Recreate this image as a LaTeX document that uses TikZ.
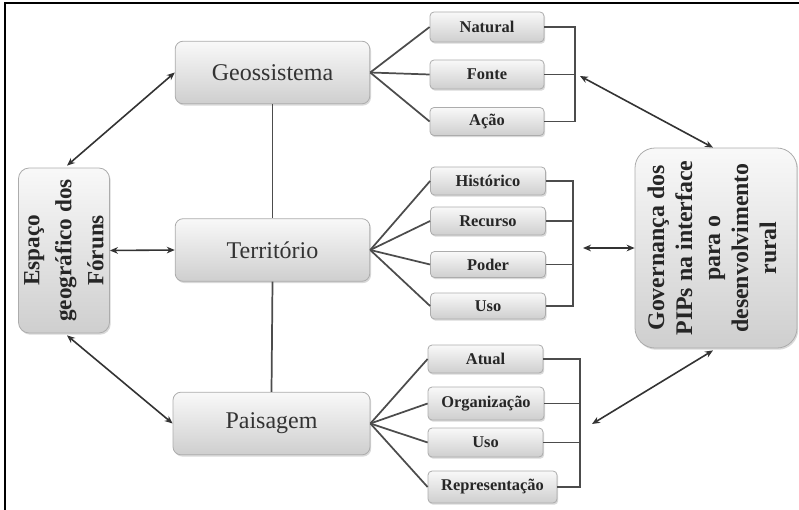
\documentclass[tikz,border=0pt]{standalone}
\usepackage{fontspec}
\setmainfont{Liberation Serif}
\usetikzlibrary{shadows,arrows.meta,calc}
\tikzset{
  boxbase/.style={draw=gray!65, line width=0.6pt, top color=gray!5, bottom color=gray!38,
    drop shadow={opacity=0.3, shadow xshift=0.9pt, shadow yshift=-1.3pt}},
  bigbox/.style={boxbase, rounded corners=6pt, minimum width=146pt, minimum height=47pt,
    inner sep=0pt, font=\fontsize{18}{20}\selectfont, text=black!80},
  smallbox/.style={boxbase, rounded corners=3pt, minimum width=85.5pt, minimum height=21pt,
    inner sep=0pt, font=\fontsize{12.3}{14}\selectfont\bfseries, text=black!85},
  sidebox/.style={boxbase, inner sep=0pt},
  rottext/.style={rotate=90, align=center, inner sep=0pt, text=black!85},
  link/.style={draw=black!70, line width=1.3pt},
  dbl/.style={draw=black!80, line width=1.2pt, {Stealth[length=6pt,width=5pt]}-{Stealth[length=6pt,width=5pt]}},
}
\begin{document}
\begin{tikzpicture}[x=0.75pt,y=-0.75pt]
\useasboundingbox (0,0) rectangle (799,510);
% frame
\draw[line width=1.5pt] (5,510) coordinate (fl) -- (5,3) coordinate (fc) -- (799,3) coordinate (fr);

% main boxes
\node[bigbox] (geo) at (272.5,72.5) {Geossistema};
\node[bigbox] (ter) at (272.5,250) {Território};
\node[bigbox, minimum width=147.75pt] (pai) at (271.5,423.5) {Paisagem};

% side boxes
\node[sidebox, rounded corners=8pt, minimum width=68.25pt, minimum height=123.75pt] (esp) at (64,250.5) {};
\node[rottext, font=\fontsize{17.4}{24}\selectfont\bfseries] (espt) at (esp.center) {Espaço\\geográfico dos\\Fóruns};
\node[sidebox, rounded corners=15pt, minimum width=121.5pt, minimum height=150pt] (gov) at (716,248) {};
\node[rottext, font=\fontsize{17.9}{21}\selectfont\bfseries] (govt) at ($(gov.center)+(-4,0)$) {Governança dos\\PIPs na interface\\para o\\desenvolvimento\\rural};

% small boxes - Geossistema
\node[smallbox, minimum height=22.5pt] (nat) at (487,27) {Natural};
\node[smallbox, minimum height=21.75pt] (fon) at (487,74.5) {Fonte};
\node[smallbox, minimum height=21pt] (aca) at (487,121.5) {Ação};
% Territorio
\node[smallbox, minimum width=86.25pt, minimum height=21pt] (his) at (488,181) {Histórico};
\node[smallbox, minimum width=86.25pt, minimum height=21pt] (rec) at (488,221) {Recurso};
\node[smallbox, minimum width=86.25pt, minimum height=19.5pt] (pod) at (488,264.5) {Poder};
\node[smallbox, minimum width=86.25pt, minimum height=19.5pt] (usoa) at (488,306) {Uso};
% Paisagem
\node[smallbox, minimum width=86.25pt, minimum height=21pt] (atu) at (485.5,359) {Atual};
\node[smallbox, minimum width=87pt, minimum height=24.75pt] (org) at (486,403.5) {Organização};
\node[smallbox, minimum width=86.25pt, minimum height=21.75pt] (usob) at (485.5,442.5) {Uso};
\node[smallbox, minimum width=96.75pt, minimum height=24pt] (rep) at (492.5,487) {Representação};

% vertical links between main boxes
\draw[link] (geo.south) -- (ter.north);
\draw[link] (ter.south) -- (pai.north);

% fans
\foreach \t in {nat,fon,aca} \draw[link] (geo.east) -- (\t.west);
\foreach \t in {his,rec,pod,usoa} \draw[link] (ter.east) -- (\t.west);
\foreach \t in {atu,org,usob,rep} \draw[link] (pai.east) -- (\t.west);

% brackets
\coordinate (gx) at (575,0);
\coordinate (tx) at (573,0);
\coordinate (px) at (580,0);
\draw[link] (nat.east) -- (nat.east -| gx) -- (aca.east -| gx) -- (aca.east);
\draw[link] (fon.east) -- (fon.east -| gx);
\draw[link] (his.east) -- (his.east -| tx) -- (usoa.east -| tx) -- (usoa.east);
\draw[link] (rec.east) -- (rec.east -| tx);
\draw[link] (pod.east) -- (pod.east -| tx);
\draw[link] (atu.east) -- (atu.east -| px) -- (rep.east -| px) -- (rep.east);
\draw[link] (org.east) -- (org.east -| px);
\draw[link] (usob.east) -- (usob.east -| px);

% arrows
\coordinate (ga) at (580,76);
\coordinate (ta) at (583,248);
\coordinate (pa) at (592,424);
\draw[dbl] (ga) -- ($(gov.north)+(-3,0)$);
\draw[dbl] (ta) -- (gov.west);
\draw[dbl] (pa) -- ($(gov.south)+(-3,2)$);
\draw[dbl] ($(esp.north)+(3,-2)$) -- (geo.west);
\draw[dbl] (esp.east) -- (ter.west);
\draw[dbl] ($(esp.south)+(3,2)$) -- (pai.west);
\end{tikzpicture}
\end{document}
